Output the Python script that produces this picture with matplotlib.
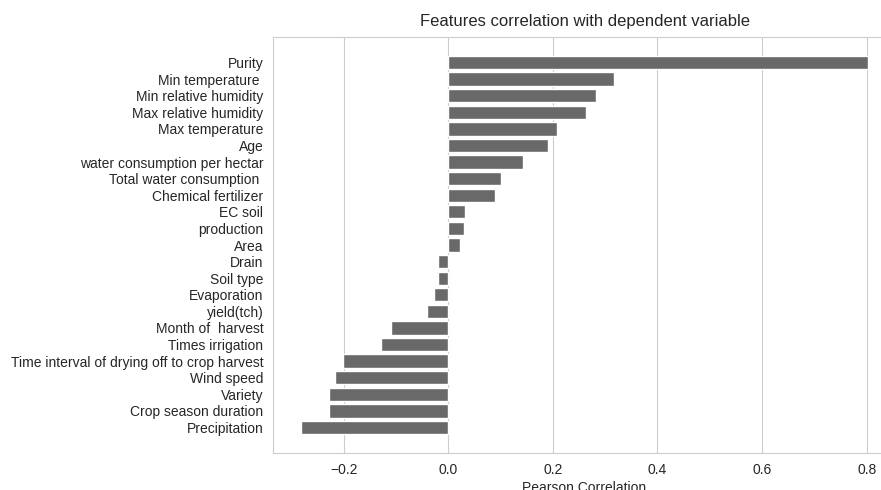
import numpy as np
import matplotlib.pyplot as plt
import seaborn as sns

features = ["Purity", "Min temperature ", "Min relative humidity", "Max relative humidity",
            "Max temperature", "Age", "water consumption per hectar", "Total water consumption ",
            "Chemical fertilizer", "EC soil", "production", "Area", "Drain", "Soil type",
            "Evaporation", "yield(tch)", "Month of  harvest", "Times irrigation",
            "Time interval of drying off to crop harvest", "Wind speed", "Variety",
            "Crop season duration", "Precipitation"]
corr = [0.802, 0.316, 0.282, 0.263, 0.208, 0.190, 0.143, 0.100,
        0.089, 0.032, 0.031, 0.022, -0.019, -0.019,
        -0.028, -0.040, -0.109, -0.128,
        -0.201, -0.216, -0.228, -0.228, -0.281]

sns.set_style("whitegrid")
plt.rcParams['font.family'] = ['Liberation Sans', 'DejaVu Sans']

fig = plt.figure(figsize=(8.81, 4.9), dpi=100)
ax = fig.add_axes([273 / 881, 37 / 490, 623 / 881, 416 / 490])

# bottom-up order for barh
ax.barh(features[::-1], corr[::-1], color="dimgray")
ax.grid(axis="y", visible=False)
ax.set_title("Features correlation with dependent variable", fontsize=12, color=".15", pad=8)
ax.set_xlabel("Pearson Correlation", fontsize=10, color=".15", labelpad=3)
ax.tick_params(labelsize=10, colors=".15")

fig.savefig("out.png", dpi=100)
